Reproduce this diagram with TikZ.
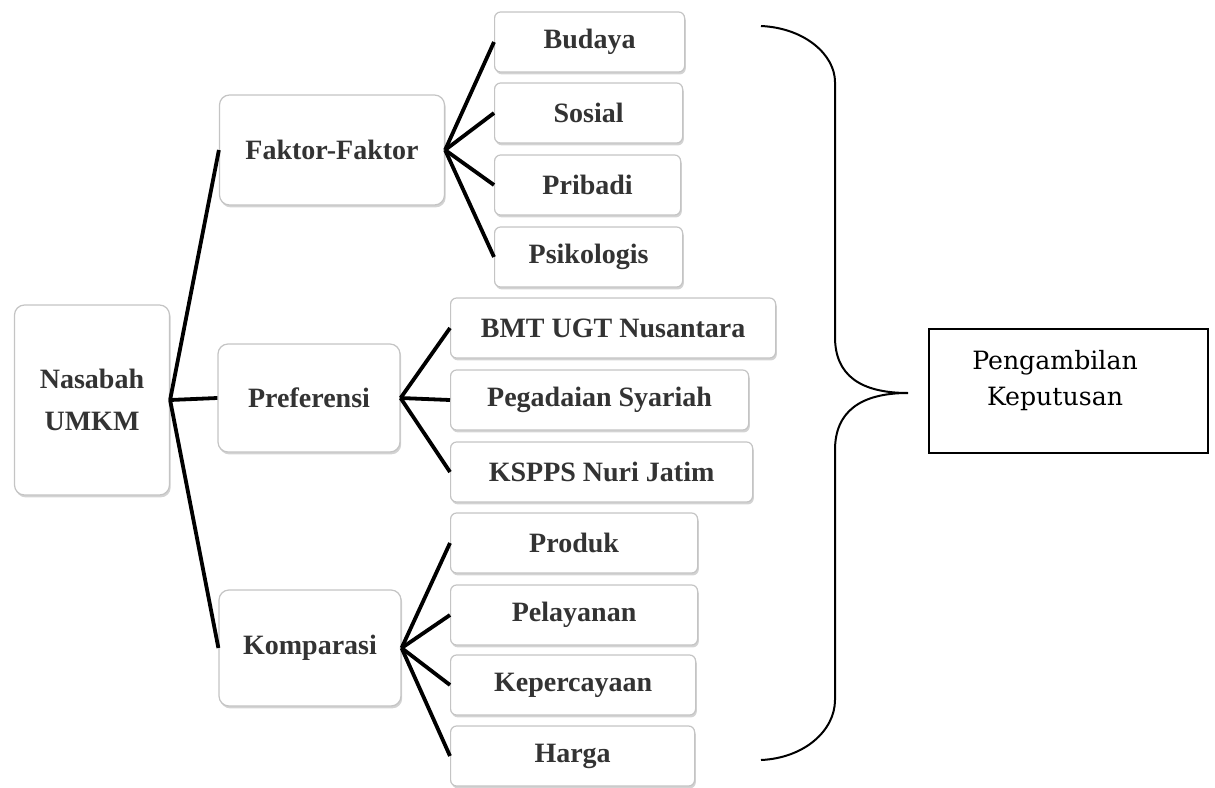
\documentclass[tikz,border=0pt]{standalone}
\usepackage{fontspec}
\setmainfont{Liberation Serif}
\newfontfamily\decfont{DejaVu Serif}
\usetikzlibrary{shadows}
\definecolor{edge}{HTML}{C4C4C4}
\definecolor{ink}{HTML}{333333}
\tikzset{
  box/.style={draw=edge, fill=white, rounded corners=5pt, line width=0.6pt, align=center,
    font=\fontsize{14}{21}\selectfont\bfseries, text=ink,
    drop shadow={shadow xshift=0.6pt, shadow yshift=-1.2pt, opacity=0.35}},
  item/.style={box, anchor=west, minimum height=30pt, rounded corners=3pt},
  link/.style={line width=1.9pt, black},
  brace/.style={line width=1pt, black},
  outbox/.style={draw, line width=0.8pt, minimum width=139.5pt, minimum height=62pt},
  outtext/.style={font=\decfont\fontsize{12.6}{18}\selectfont, align=center}
}
\begin{document}
\begin{tikzpicture}[x=0.5pt, y=-0.5pt]
\useasboundingbox (0,0) rectangle (1215,787);
% root and groups
\node[box, minimum width=77.5pt, minimum height=95pt] (nasabah) at (92,400) {Nasabah\\UMKM};
\node[box, minimum width=112.5pt, minimum height=55pt] (faktor) at (332,150) {Faktor-Faktor};
\node[box, minimum width=91pt, minimum height=54pt] (preferensi) at (309,398) {Preferensi};
\node[box, minimum width=91pt, minimum height=58pt] (komparasi) at (310,648) {Komparasi};
% items
\node[item, minimum width=95pt] (budaya) at (494,42) {Budaya};
\node[item, minimum width=94pt] (sosial) at (494,113) {Sosial};
\node[item, minimum width=93pt] (pribadi) at (494,185) {Pribadi};
\node[item, minimum width=94pt] (psikologis) at (494,257) {Psikologis};
\node[item, minimum width=162.5pt] (bmt) at (450,328) {BMT UGT Nusantara};
\node[item, minimum width=149pt] (pegadaian) at (450,400) {Pegadaian Syariah};
\node[item, minimum width=151pt] (kspps) at (450,472) {KSPPS Nuri Jatim};
\node[item, minimum width=123.5pt] (produk) at (450,543) {Produk};
\node[item, minimum width=123.5pt] (pelayanan) at (450,615) {Pelayanan};
\node[item, minimum width=122.5pt] (kepercayaan) at (450,685) {Kepercayaan};
\node[item, minimum width=122pt] (harga) at (450,756) {Harga};
% decision
\node[outbox] (keputusan) at (1068.5,391) {};
\node[outtext] (keputusanteks) at (1055,381) {Pengambilan\\Keputusan};
% links
\draw[link] (nasabah.east) -- (faktor.west);
\draw[link] (nasabah.east) -- (preferensi.west);
\draw[link] (nasabah.east) -- (komparasi.west);
\draw[link] (faktor.east) -- (budaya.west);
\draw[link] (faktor.east) -- (sosial.west);
\draw[link] (faktor.east) -- (pribadi.west);
\draw[link] (faktor.east) -- (psikologis.west);
\draw[link] (preferensi.east) -- (bmt.west);
\draw[link] (preferensi.east) -- (pegadaian.west);
\draw[link] (preferensi.east) -- (kspps.west);
\draw[link] (komparasi.east) -- (produk.west);
\draw[link] (komparasi.east) -- (pelayanan.west);
\draw[link] (komparasi.east) -- (kepercayaan.west);
\draw[link] (komparasi.east) -- (harga.west);
% brace
\coordinate (btop) at (761,26);
\coordinate (btip) at (908,393);
\coordinate (bbot) at (761,760);
\draw[brace] (btop) .. controls (805,28) and (835,55) .. (835,82) -- (835,337)
  .. controls (835,375) and (860,393) .. (btip)
  .. controls (860,393) and (835,412) .. (835,450) -- (835,700)
  .. controls (835,730) and (805,758) .. (bbot);
\end{tikzpicture}
\end{document}
